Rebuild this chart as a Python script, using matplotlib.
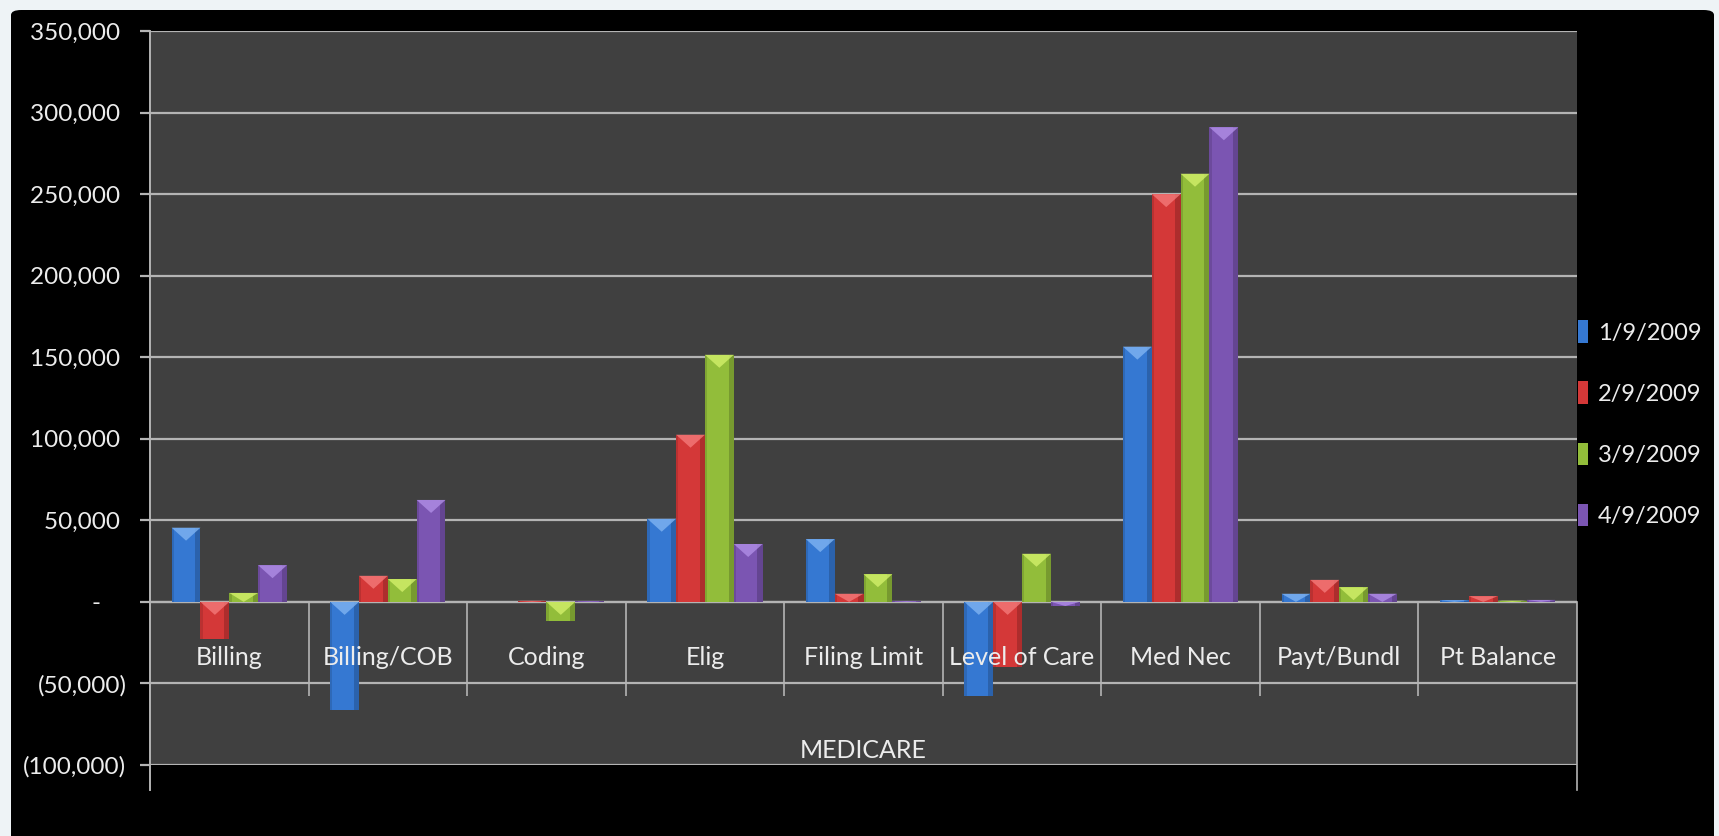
import numpy as np
import matplotlib
matplotlib.use("Agg")
import matplotlib.pyplot as plt
import matplotlib.patches as mpatches
from matplotlib.lines import Line2D
from matplotlib.ticker import FuncFormatter, MultipleLocator

# chart data
categories = ['Billing', 'Billing/COB', 'Coding', 'Elig', 'Filing Limit',
              'Level of Care', 'Med Nec', 'Payt/Bundl', 'Pt Balance']
dates = ['1/9/2009', '2/9/2009', '3/9/2009', '4/9/2009']
jan = [45500, -66000, 0, 51000, 38500, -58000, 156500, 5000, 1000]
feb = [-23000, 16000, 700, 102500, 5000, -40000, 250000, 13500, 3500]
mar = [5500, 14000, -12000, 151500, 17000, 29500, 262500, 9000, 800]
apr = [22500, 62500, 300, 35500, 500, -2500, 291000, 5000, 1200]
group_label = 'MEDICARE'

series = [jan, feb, mar, apr]
colors = ['#3578d2', '#d43838', '#92bd3a', '#7b55b2']
lights = ['#7fb4f2', '#f47a7a', '#d2f06a', '#b08ee6']

plt.rcParams['font.family'] = ['Lato', 'DejaVu Sans']
txt = '#ececec'
grid = '#b4b4b4'
fs = 18

fig = plt.figure(figsize=(17.19, 8.36), dpi=100, facecolor='#eef3f6')
panel = mpatches.FancyBboxPatch((11 / 1719, -0.05), 1703 / 1719, 0.05 + 826 / 836,
                                boxstyle='round,pad=0,rounding_size=0.006',
                                transform=fig.transFigure, facecolor='black',
                                edgecolor='none', zorder=-10)
fig.add_artist(panel)

ax = fig.add_axes([150 / 1719, 71 / 836, 1427 / 1719, 734 / 836])
ax.set_zorder(1)
ax.set_facecolor('#404040')
ax.set_xlim(-0.5, len(categories) - 0.5)
ax.set_ylim(-100000, 350000)
for s in ax.spines.values():
    s.set_visible(False)

ax.yaxis.set_major_locator(MultipleLocator(50000))
ax.grid(axis='y', color=grid, lw=1.6, zorder=1)
ax.set_axisbelow(True)


def acct(v, pos):
    if abs(v) < 1:
        return '-    '
    if v < 0:
        return '({:,.0f})'.format(-v)
    return '{:,.0f} '.format(v)


ax.yaxis.set_major_formatter(FuncFormatter(acct))
ax.tick_params(axis='y', length=7, width=1.6, color=grid, pad=10,
               labelsize=17.5, labelcolor=txt)
ax.tick_params(axis='x', length=0, labelbottom=False)

x = np.arange(len(categories))
w = 1 / 5.5
per_px = 450000 / 734
for i, vals in enumerate(series):
    bars = ax.bar(x + (i - 1.5) * w, vals, w, color=colors[i], zorder=3,
                  label=dates[i], linewidth=0)
    for r in bars:
        h = r.get_height()
        x0, bw = r.get_x(), r.get_width()
        top = h if h >= 0 else 0
        if abs(h) < 1:
            continue
        # shading on the sides
        ax.add_patch(mpatches.Rectangle((x0 + bw * 0.82, r.get_y()), bw * 0.18, h,
                                        facecolor='black', alpha=0.18, lw=0, zorder=4))
        ax.add_patch(mpatches.Rectangle((x0, r.get_y()), bw * 0.08, h,
                                        facecolor='black', alpha=0.12, lw=0, zorder=4))
        d = min(13 * per_px, abs(h))
        chev = mpatches.Polygon([(x0, top), (x0 + bw, top), (x0 + bw / 2, top - d)],
                                closed=True, facecolor=lights[i], alpha=0.8,
                                lw=0, zorder=5)
        ax.add_patch(chev)

# zero line and category axis boxes
ax.axhline(0, color=grid, lw=1.6, zorder=2)
ax.vlines(x[:-1] + 0.5, -57500, 0, color=grid, lw=1.2, zorder=2)
ax.add_line(Line2D([0, 0], [1, -0.034], transform=ax.transAxes, color=grid,
                   lw=1.4, clip_on=False, zorder=6))
ax.add_line(Line2D([1, 1], [100000 / 450000, -0.034], transform=ax.transAxes,
                   color=grid, lw=1.2, clip_on=False, zorder=6))
for xi, name in zip(x, categories):
    ax.text(xi, -34000, name, ha='center', va='center', fontsize=fs,
            color=txt, zorder=7)
ax.text(np.mean(x), -91000, group_label, ha='center', va='center',
        fontsize=fs, color=txt, zorder=7)

leg = ax.legend(loc='center left', bbox_to_anchor=(1.001, 0.465), frameon=False,
                fontsize=17, handlelength=0.42, handleheight=1.1, borderpad=0,
                handletextpad=0.4, labelspacing=1.6, borderaxespad=0)
for t in leg.get_texts():
    t.set_color(txt)

fig.savefig('out.png', dpi=100, facecolor=fig.get_facecolor())
